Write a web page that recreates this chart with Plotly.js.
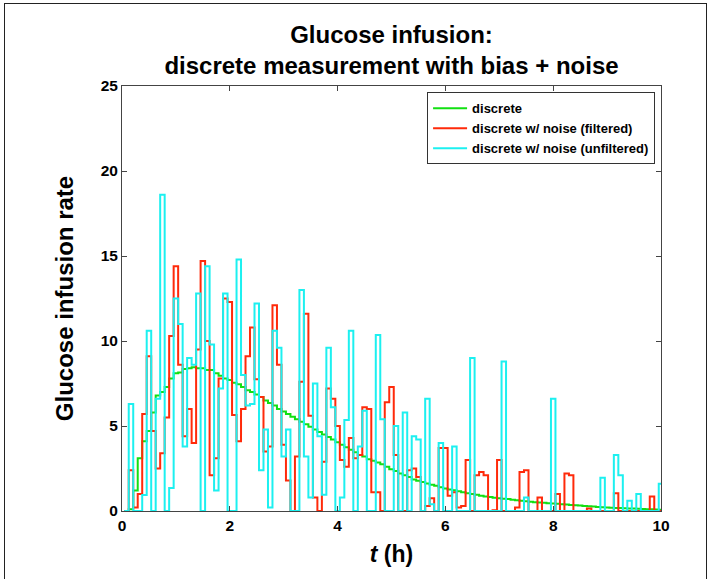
<!DOCTYPE html>
<html>
<head>
<meta charset="utf-8">
<script src="https://cdn.plot.ly/plotly-3.0.1.min.js"></script>
<style>
  html, body { margin: 0; padding: 0; background: #fff; }
  #wrap { position: relative; width: 712px; height: 579px; overflow: hidden; }
  #chart { width: 712px; height: 579px; }
  #frame { position: absolute; left: 4px; top: 3px; width: 703px; height: 620px;
           border: 1.5px solid #222; pointer-events: none; box-sizing: border-box; }
</style>
</head>
<body>
<div id="wrap"><div id="chart"></div><div id="frame"></div></div>
<script>
// Sampling: 5-minute steps (1/12 h); each sample's step starts half a step in.
const stepHours = 1 / 12;

// Series values (glucose infusion rate), one per 5-minute sample
const discrete = [
  0.0, 0.1, 1.2, 3.1, 4.1, 4.7, 5.8, 6.8, 7.0, 7.3,
  7.8, 8.1, 8.15, 8.35, 8.4, 8.45, 8.4, 8.4, 8.3, 8.3,
  8.1, 7.95, 7.8, 7.7, 7.55, 7.45, 7.3, 7.1, 7.0, 6.85,
  6.7, 6.5, 6.35, 6.2, 6.0, 5.85, 5.7, 5.55, 5.4, 5.25,
  5.1, 4.95, 4.8, 4.65, 4.5, 4.35, 4.2, 4.05, 3.9, 3.75,
  3.6, 3.45, 3.3, 3.2, 3.05, 2.95, 2.85, 2.75, 2.6, 2.45,
  2.35, 2.2, 2.1, 2.0, 1.85, 1.78, 1.7, 1.62, 1.55, 1.48,
  1.4, 1.33, 1.27, 1.22, 1.16, 1.1, 1.05, 1.0, 0.95, 0.9,
  0.86, 0.82, 0.78, 0.75, 0.72, 0.7, 0.66, 0.63, 0.6, 0.57,
  0.55, 0.52, 0.5, 0.48, 0.46, 0.44, 0.42, 0.4, 0.38, 0.36,
  0.34, 0.32, 0.3, 0.28, 0.26, 0.24, 0.22, 0.2, 0.19, 0.18,
  0.17, 0.16, 0.15, 0.14, 0.13, 0.12, 0.11, 0.1, 0.09, 0.08, 0.08
];

const filtered = [
  0, 2.4, 0.2, 1.0, 5.7, 9.1, 4.7, 2.5, 3.4, 5.5,
  10.3, 14.4, 8.6, 4.4, 6.0, 4.0, 9.5, 14.7, 10.0, 2.1,
  3.1, 7.8, 12.5, 12.3, 5.65, 4.1, 6.0, 9.1, 10.8, 7.75,
  6.7, 3.5, 3.8, 12.1, 8.6, 3.9, 1.8, 0, 3.2, 7.6,
  11.6, 5.6, 0.8, 0, 2.9, 7.2, 6.6, 5.0, 3.0, 2.6,
  4.3, 3.1, 3.3, 6.1, 6.0, 1.1, 1.1, 0, 6.4, 7.3,
  3.3, 0, 0, 2.4, 2.5, 2.0, 0, 0.3, 0.75, 0,
  3.7, 3.7, 0.9, 1.1, 0.2, 0.3, 3.0, 0, 2.1, 2.3,
  2.1, 0, 0.05, 3.0, 0, 0, 0, 0.2, 2.3, 2.4,
  0, 0, 0.8, 0, 0, 0, 1.0, 0, 2.2, 2.1,
  0, 0, 0, 0.15, 0, 0, 0, 0, 0, 1.05,
  0, 0, 0, 0, 0, 0, 0, 0.85, 0, 0, 0
];

const unfiltered = [
  0, 6.3, 0, 0, 0.94, 10.6, 0, 6.6, 18.6, 0,
  1.35, 12.5, 11.0, 3.8, 9.0, 8.6, 12.8, 0, 14.4, 9.8,
  1.2, 7.2, 12.8, 0, 0, 14.8, 8.0, 6.2, 6.3, 12.2,
  2.4, 4.8, 0.2, 10.6, 9.6, 3.2, 4.8, 0, 0, 13.0,
  3.2, 0.8, 7.5, 4.4, 0.95, 9.6, 6.1, 0, 0.8, 5.35,
  10.6, 0, 3.8, 5.9, 0, 0, 10.35, 5.4, 0, 0,
  5.0, 0, 5.8, 0, 4.4, 4.2, 0, 6.6, 0.4, 0,
  4.0, 0, 0, 3.8, 0, 0, 0, 9.0, 0, 0,
  0, 0, 0, 0, 8.8, 0, 0, 0, 0, 0.8,
  0, 0, 0, 0, 0, 6.6, 0, 0, 0, 0,
  0, 0, 0, 0, 0, 0, 1.96, 0, 0, 3.3,
  2.1, 0, 0.6, 0, 1.0, 0, 0, 0, 0, 1.6, 1.6
];

const seriesNames = ['discrete', 'discrete w/ noise (filtered)', 'discrete w/ noise (unfiltered)'];
const seriesColors = ['#12e012', '#ff2a0a', '#1cf0f0'];
const xTicks = [0, 2, 4, 6, 8, 10];
const yTicks = [0, 5, 10, 15, 20, 25];

const times = discrete.map((_, i) => (i + 0.5) * stepHours);

const FONT = 'Liberation Sans, Arial, Helvetica, sans-serif';

const traces = [discrete, filtered, unfiltered].map((vals, j) => ({
  type: 'scatter',
  mode: 'lines',
  x: times,
  y: vals,
  name: seriesNames[j],
  line: { shape: 'hv', color: seriesColors[j], width: 2 },
  cliponaxis: true
}));

const axisCommon = {
  showline: true, linecolor: '#444', linewidth: 1, mirror: 'ticks',
  ticks: 'inside', ticklen: 5, tickcolor: '#444', tickwidth: 1,
  showgrid: false, zeroline: false,
  tickfont: { family: FONT, size: 15.5, color: '#000', weight: 'bold' }
};

const layout = {
  width: 712, height: 579,
  margin: { l: 122, r: 51, t: 86, b: 68 },
  paper_bgcolor: '#fff', plot_bgcolor: '#fff',
  title: {
    text: 'Glucose infusion:<br>discrete measurement with bias + noise',
    font: { family: FONT, size: 24, color: '#000', weight: 'bold' },
    x: 0.5, xref: 'paper', xanchor: 'center',
    y: 1 - 43 / 579, yref: 'container', yanchor: 'middle'
  },
  xaxis: Object.assign({}, axisCommon, {
    range: [0, 10], tickvals: xTicks, ticktext: xTicks.map(String),
    title: { text: '<i>t</i> (h)', standoff: 13,
             font: { family: FONT, size: 23, color: '#000', weight: 'bold' } }
  }),
  yaxis: Object.assign({}, axisCommon, {
    range: [0, 25], tickvals: yTicks, ticktext: yTicks.map(String),
    title: { text: 'Glucose infusion rate', standoff: 20,
             font: { family: FONT, size: 24, color: '#000', weight: 'bold' } }
  }),
  showlegend: true,
  legend: {
    x: 0.566, y: 0.985, xanchor: 'left', yanchor: 'top',
    bgcolor: '#fff', bordercolor: '#333', borderwidth: 1,
    font: { family: FONT, size: 13, color: '#000', weight: 'bold' },
    itemwidth: 34, tracegroupgap: 0
  }
};

Plotly.newPlot('chart', traces, layout, { displayModeBar: false, staticPlot: true });
</script>
</body>
</html>
